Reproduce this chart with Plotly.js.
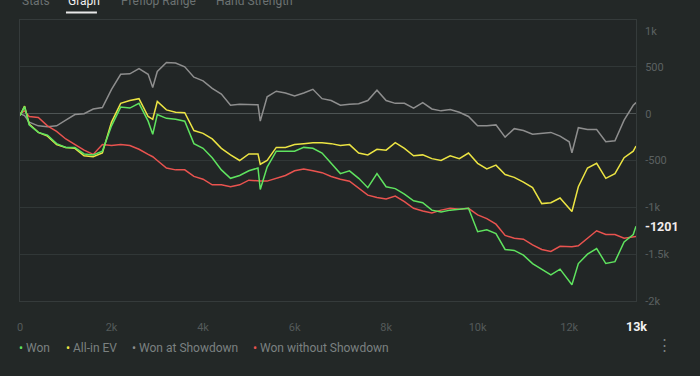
<!DOCTYPE html>
<html>
<head>
<meta charset="utf-8">
<script src="https://cdn.plot.ly/plotly-3.0.1.min.js"></script>
<style>
  html, body { margin: 0; padding: 0; background: #232827; }
  #chart { width: 700px; height: 376px; }
</style>
</head>
<body>
<div id="chart"></div>
<script>
// Hands played (x axis)
const hands = [0, 100, 200, 400, 600, 800, 1000, 1200, 1400, 1600, 1800, 2000, 2200, 2400, 2600, 2800, 2900, 3000, 3200, 3400, 3600, 3800, 4000, 4200, 4400, 4600, 4800, 5000, 5200, 5250, 5400, 5600, 5800, 6000, 6200, 6400, 6600, 6800, 7000, 7200, 7400, 7600, 7800, 8000, 8200, 8400, 8600, 8800, 9000, 9200, 9400, 9600, 9800, 10000, 10200, 10400, 10600, 10800, 11000, 11200, 11400, 11600, 11800, 12000, 12060, 12200, 12400, 12600, 12800, 13000, 13200, 13400, 13460];

// Won
const won = [-20, 75, -120, -200, -230, -320, -360, -360, -430, -440, -400, -130, 70, 60, 110, -80, -220, -10, -50, -60, -80, -320, -370, -470, -600, -690, -660, -610, -580, -810, -570, -400, -400, -400, -360, -370, -420, -530, -640, -610, -690, -790, -640, -780, -800, -860, -930, -950, -1030, -1050, -1030, -1020, -1010, -1260, -1240, -1280, -1450, -1460, -1510, -1600, -1660, -1720, -1660, -1780, -1827, -1600, -1500, -1440, -1600, -1580, -1370, -1290, -1201];

// All-in EV
const allinEV = [-20, 80, -110, -200, -240, -330, -360, -370, -450, -460, -420, -90, 110, 140, 160, -30, -60, 130, 40, 15, 10, -180, -210, -270, -370, -440, -500, -430, -430, -540, -500, -360, -360, -330, -320, -310, -310, -320, -340, -330, -420, -440, -380, -390, -310, -370, -450, -440, -480, -500, -450, -480, -420, -530, -590, -550, -650, -680, -730, -790, -960, -950, -900, -1010, -1045, -780, -580, -530, -690, -640, -470, -400, -345];

// Won at Showdown
const wonSD = [0, -20, -90, -130, -140, -130, -70, -10, 0, 50, 65, 260, 420, 425, 480, 420, 280, 450, 546, 540, 500, 390, 350, 270, 210, 90, 100, 100, 95, -79, 180, 240, 220, 190, 220, 260, 160, 140, 90, 100, 105, 140, 250, 140, 110, 110, 60, 118, 50, 30, 45, 15, -30, -130, -130, -120, -250, -160, -180, -220, -210, -200, -240, -300, -417, -150, -170, -170, -300, -290, -70, 90, 118];

// Won without Showdown
const wonNoSD = [0, 30, -30, -40, -130, -190, -270, -330, -390, -435, -330, -340, -330, -340, -380, -435, -460, -500, -580, -600, -600, -670, -700, -760, -760, -780, -760, -710, -720, -720, -720, -690, -660, -610, -590, -610, -630, -670, -700, -721, -800, -870, -895, -910, -880, -940, -1010, -1040, -1060, -1030, -1010, -1020, -1010, -1080, -1120, -1180, -1300, -1330, -1340, -1400, -1450, -1470, -1416, -1420, -1420, -1410, -1330, -1250, -1290, -1290, -1330, -1320, -1310];

const xTickVals = [0, 2000, 4000, 6000, 8000, 10000, 12000];
const xTickText = ['0', '2k', '4k', '6k', '8k', '10k', '12k'];
const yTickVals = [-2000, -1500, -1000, -500, 0, 500];
const yTickText = ['-2k', '-1.5k', '-1k', '-500', '0', '500'];

const seriesNames = ['Won', 'All-in EV', 'Won at Showdown', 'Won without Showdown'];
const seriesColors = ['#5fe35f', '#ece443', '#8e8e8e', '#e9534f'];
const seriesValues = [won, allinEV, wonSD, wonNoSD];

const tabs = ['Stats', 'Graph', 'Preflop Range', 'Hand Strength'];

const FONT = 'Roboto, Noto Sans, sans-serif';
const L = 20, T = 20, W = 616.5, H = 281;
const px = x => (x - L) / W;
const py = y => (T + H - y) / H;

// draw order: gray, red, yellow, green on top
const order = [2, 3, 1, 0];
const traces = order.map(i => ({
  type: 'scatter', mode: 'lines',
  x: hands, y: seriesValues[i], name: seriesNames[i],
  line: { color: seriesColors[i], width: 1.5 },
  hoverinfo: 'skip', showlegend: false
}));

const annotations = [];
// y label 1k pushed inside
annotations.push({ xref: 'paper', yref: 'paper', x: 1, y: 1, xanchor: 'left', yanchor: 'middle',
  xshift: 7, yshift: -11, text: '1k', showarrow: false, font: { family: FONT, size: 11, color: '#5b6161' } });
// last value label
annotations.push({ xref: 'paper', yref: 'y', x: 1, y: won[won.length - 1], xanchor: 'left', yanchor: 'middle',
  xshift: 7, text: '<b>' + won[won.length - 1] + '</b>', showarrow: false, font: { family: FONT, size: 12.5, color: '#f3eded' } });
// last hand label
annotations.push({ xref: 'x', yref: 'paper', x: hands[hands.length - 1], y: 0, xanchor: 'center', yanchor: 'middle',
  yshift: -25, text: '<b>13k</b>', showarrow: false, font: { family: FONT, size: 12.5, color: '#f3f3f3' } });
// legend
const legendX = [17, 64, 130, 251];
seriesNames.forEach((n, i) => {
  annotations.push({ xref: 'paper', yref: 'paper', x: px(legendX[i]), y: py(348), xanchor: 'left', yanchor: 'middle',
    text: '<span style="color:' + seriesColors[i] + '">•</span> ' + n, showarrow: false,
    font: { family: FONT, size: 12, color: '#7b8181' } });
});
annotations.push({ xref: 'paper', yref: 'paper', x: px(665), y: py(345), xanchor: 'center', yanchor: 'middle',
  text: '⋮', showarrow: false, font: { family: FONT, size: 15, color: '#7b8181' } });
// tabs (cut off by the top edge, as in the reference)
const tabX = [20, 66, 119, 214];
tabs.forEach((t, i) => {
  annotations.push({ xref: 'paper', yref: 'paper', x: px(tabX[i]), y: py(1.5), xanchor: 'left', yanchor: 'middle',
    text: t, showarrow: false, font: { family: FONT, size: 12, color: i === 1 ? '#f0f0f0' : '#6c7272' } });
});

const layout = {
  width: 700, height: 376,
  margin: { l: L, r: 700 - L - W, t: T, b: 376 - T - H, pad: 0 },
  paper_bgcolor: '#232827', plot_bgcolor: '#222626',
  showlegend: false,
  xaxis: {
    range: [0, hands[hands.length - 1]], tickvals: xTickVals, ticktext: xTickText,
    showgrid: false, zeroline: false, showline: true, linecolor: '#353b3b', mirror: true,
    ticks: '', ticklabelstandoff: 16, tickfont: { family: FONT, size: 11, color: '#545a5a' },
    fixedrange: true
  },
  yaxis: {
    side: 'right', range: [-2000, 1000], tickvals: yTickVals, ticktext: yTickText,
    showgrid: true, gridcolor: '#313737', gridwidth: 1,
    zeroline: true, zerolinecolor: '#4e5454', zerolinewidth: 1.5,
    showline: true, linecolor: '#353b3b', mirror: true,
    ticks: '', ticklabelstandoff: 6, tickfont: { family: FONT, size: 11, color: '#5b6161' },
    fixedrange: true
  },
  shapes: [
    { type: 'line', xref: 'paper', yref: 'paper', x0: px(66), x1: px(97), y0: py(12.5), y1: py(12.5),
      line: { color: '#e8e8e8', width: 2 } }
  ],
  annotations: annotations
};

Plotly.newPlot('chart', traces, layout, { displayModeBar: false, staticPlot: true });
</script>
</body>
</html>
